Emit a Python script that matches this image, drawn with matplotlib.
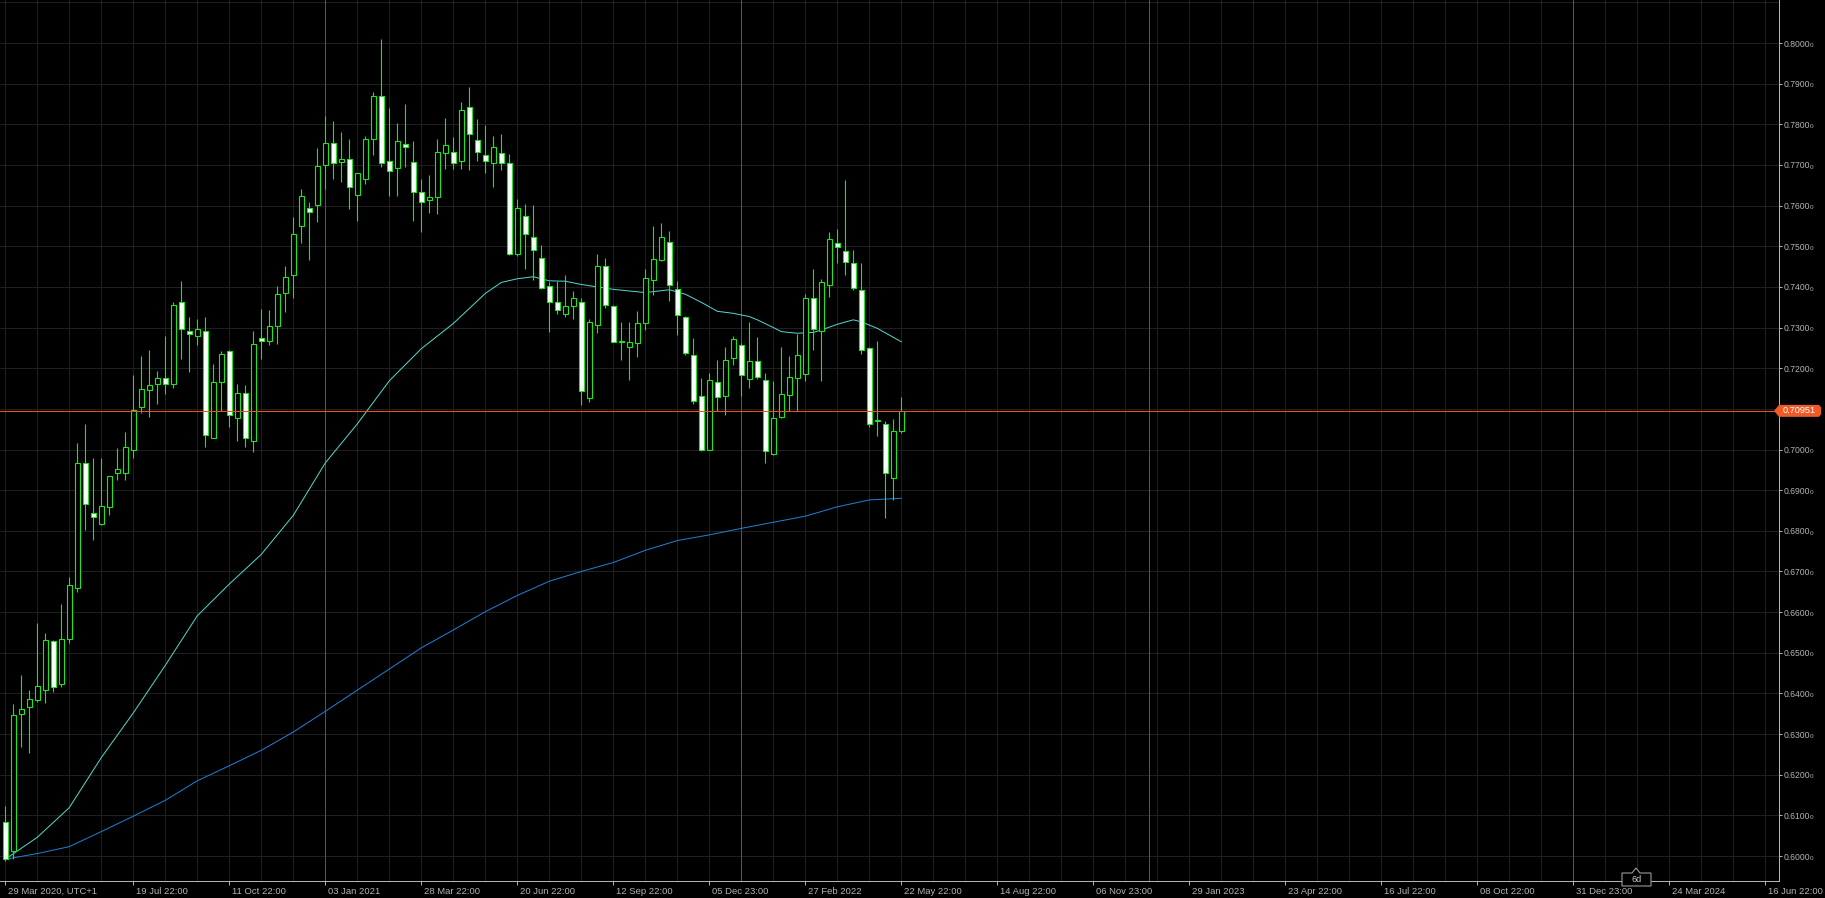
import numpy as np
import matplotlib
matplotlib.use("Agg")
import matplotlib.pyplot as plt
import matplotlib.transforms as mtransforms
from matplotlib.patches import Polygon

plt.rcParams["font.family"] = ["Liberation Sans", "DejaVu Sans"]

# Weekly candles, 29 Mar 2020 -> 22 May 2022
opens = [0.6084, 0.6013, 0.6349, 0.6366, 0.6384, 0.6408, 0.6528, 0.6422, 0.6535, 0.6659,
         0.6967, 0.6845, 0.6817, 0.6859, 0.6941, 0.6943, 0.6999, 0.7105, 0.7146, 0.7162,
         0.7176, 0.7162, 0.7363, 0.7292, 0.7279, 0.7292, 0.7028, 0.7165, 0.7243, 0.7077,
         0.7138, 0.7021, 0.7274, 0.7267, 0.7303, 0.7384, 0.7430, 0.7549, 0.7594, 0.7601,
         0.7701, 0.7754, 0.7707, 0.7714, 0.7627, 0.7666, 0.7763, 0.7869, 0.7709, 0.7693,
         0.7751, 0.7707, 0.7634, 0.7613, 0.7620, 0.7730, 0.7733, 0.7709, 0.7843, 0.7761,
         0.7725, 0.7705, 0.7729, 0.7705, 0.7482, 0.7575, 0.7522, 0.7472, 0.7401, 0.7362,
         0.7333, 0.7353, 0.7363, 0.7127, 0.7306, 0.7451, 0.7352, 0.7265, 0.7253, 0.7262,
         0.7311, 0.7417, 0.7466, 0.7511, 0.7394, 0.7327, 0.7232, 0.7131, 0.7000, 0.7166,
         0.7131, 0.7225, 0.7256, 0.7173, 0.7218, 0.7172, 0.6990, 0.7080, 0.7134, 0.7176,
         0.7186, 0.7373, 0.7292, 0.7404, 0.7507, 0.7488, 0.7458, 0.7392, 0.7249, 0.7070,
         0.7063, 0.6929, 0.7046]
highs = [0.6122, 0.6373, 0.6446, 0.6408, 0.6573, 0.6549, 0.6531, 0.6619, 0.6686, 0.7017,
         0.7063, 0.6979, 0.6979, 0.6936, 0.7003, 0.7042, 0.7183, 0.7230, 0.7246, 0.7193,
         0.7278, 0.7362, 0.7415, 0.7325, 0.7321, 0.7325, 0.7210, 0.7243, 0.7246, 0.7162,
         0.7159, 0.7292, 0.7345, 0.7342, 0.7401, 0.7451, 0.7573, 0.7641, 0.7610, 0.7742,
         0.7821, 0.7807, 0.7782, 0.7765, 0.7680, 0.7772, 0.7880, 0.8010, 0.7839, 0.7803,
         0.7849, 0.7758, 0.7665, 0.7676, 0.7765, 0.7815, 0.7770, 0.7855, 0.7892, 0.7813,
         0.7798, 0.7772, 0.7775, 0.7727, 0.7617, 0.7603, 0.7601, 0.7503, 0.7411, 0.7415,
         0.7429, 0.7390, 0.7373, 0.7320, 0.7482, 0.7472, 0.7356, 0.7313, 0.7313, 0.7341,
         0.7444, 0.7550, 0.7557, 0.7538, 0.7415, 0.7328, 0.7275, 0.7176, 0.7187, 0.7221,
         0.7253, 0.7279, 0.7263, 0.7314, 0.7277, 0.7187, 0.7169, 0.7253, 0.7229, 0.7284,
         0.7383, 0.7444, 0.7420, 0.7535, 0.7542, 0.7662, 0.7491, 0.7459, 0.7253, 0.7268,
         0.7070, 0.7074, 0.7128]
lows = [0.5988, 0.5992, 0.6267, 0.6253, 0.6380, 0.6376, 0.6404, 0.6415, 0.6525, 0.6650,
        0.6803, 0.6778, 0.6815, 0.6838, 0.6925, 0.6925, 0.6978, 0.7089, 0.7080, 0.7113,
        0.7137, 0.7151, 0.7223, 0.7190, 0.7256, 0.7007, 0.7028, 0.7094, 0.7056, 0.7021,
        0.7007, 0.6993, 0.7223, 0.7257, 0.7260, 0.7338, 0.7373, 0.7507, 0.7465, 0.7559,
        0.7641, 0.7666, 0.7658, 0.7592, 0.7563, 0.7652, 0.7725, 0.7694, 0.7624, 0.7624,
        0.7694, 0.7563, 0.7535, 0.7582, 0.7580, 0.7690, 0.7691, 0.7690, 0.7687, 0.7709,
        0.7681, 0.7645, 0.7687, 0.7479, 0.7475, 0.7444, 0.7416, 0.7394, 0.7289, 0.7333,
        0.7327, 0.7320, 0.7109, 0.7117, 0.7286, 0.7348, 0.7264, 0.7221, 0.7172, 0.7227,
        0.7293, 0.7380, 0.7463, 0.7366, 0.7282, 0.7232, 0.7113, 0.6997, 0.7000, 0.7094,
        0.7084, 0.7208, 0.7131, 0.7151, 0.7173, 0.6967, 0.6986, 0.7077, 0.7094, 0.7094,
        0.7169, 0.7246, 0.7169, 0.7376, 0.7459, 0.7430, 0.7392, 0.7236, 0.7056, 0.7032,
        0.6831, 0.6876, 0.7040]
closes = [0.5992, 0.6347, 0.6361, 0.6387, 0.6418, 0.6531, 0.6415, 0.6535, 0.6666, 0.6967,
          0.6866, 0.6834, 0.6862, 0.6934, 0.6951, 0.7006, 0.7098, 0.7148, 0.7158, 0.7176,
          0.7162, 0.7356, 0.7296, 0.7283, 0.7297, 0.7035, 0.7165, 0.7236, 0.7084, 0.7138,
          0.7028, 0.7260, 0.7267, 0.7303, 0.7383, 0.7425, 0.7531, 0.7623, 0.7584, 0.7697,
          0.7754, 0.7705, 0.7714, 0.7645, 0.7680, 0.7763, 0.7869, 0.7704, 0.7686, 0.7758,
          0.7744, 0.7634, 0.7610, 0.7620, 0.7733, 0.7749, 0.7705, 0.7835, 0.7775, 0.7732,
          0.7709, 0.7743, 0.7705, 0.7482, 0.7595, 0.7529, 0.7491, 0.7397, 0.7363, 0.7344,
          0.7354, 0.7372, 0.7143, 0.7314, 0.7451, 0.7355, 0.7265, 0.7267, 0.7265, 0.7311,
          0.7421, 0.7469, 0.7522, 0.7405, 0.7331, 0.7237, 0.7120, 0.7000, 0.7172, 0.7129,
          0.7221, 0.7273, 0.7183, 0.7218, 0.7179, 0.6997, 0.7077, 0.7137, 0.7179, 0.7232,
          0.7373, 0.7296, 0.7413, 0.7517, 0.7497, 0.7462, 0.7397, 0.7246, 0.7063, 0.7071,
          0.6943, 0.7046, 0.70951]

# moving averages read at selected bars (bar index, value)
ma_fast_idx = [0, 4, 8, 12, 16, 20, 24, 28, 32, 36, 40, 44, 48, 52, 56, 60, 62, 64, 66, 68,
               70, 72, 76, 80, 83, 85, 87, 89, 91, 93, 94, 96, 97, 99, 101, 102, 104, 106,
               107, 109, 111, 112]
ma_fast_val = [0.5992, 0.6046, 0.6119, 0.6242, 0.6352, 0.6469, 0.6591, 0.6669, 0.6742, 0.6838,
               0.6967, 0.7063, 0.7169, 0.7248, 0.7310, 0.7384, 0.7411, 0.7420, 0.7425, 0.7415,
               0.7414, 0.7406, 0.7394, 0.7386, 0.7393, 0.7382, 0.7362, 0.7340, 0.7335, 0.7327,
               0.7319, 0.7300, 0.7290, 0.7286, 0.7288, 0.7294, 0.7308, 0.7319, 0.7314, 0.7298,
               0.7276, 0.7265]
ma_slow_idx = [0, 4, 8, 12, 16, 20, 24, 28, 32, 36, 40, 44, 48, 52, 56, 60, 64, 68, 72, 76,
               80, 84, 88, 92, 96, 100, 104, 108, 112]
ma_slow_val = [0.5992, 0.6006, 0.6023, 0.6060, 0.6098, 0.6137, 0.6185, 0.6222, 0.6260, 0.6305,
               0.6356, 0.6408, 0.6460, 0.6512, 0.6556, 0.6601, 0.6641, 0.6676, 0.6700, 0.6722,
               0.6752, 0.6776, 0.6790, 0.6806, 0.6821, 0.6836, 0.6859, 0.6876, 0.6880]

# time axis labels (bar index from 29 Mar 2020)
tick_idx = [0, 16, 28, 40, 52, 64, 76, 88, 100, 112, 124, 136, 148, 160, 172, 184, 196, 208, 220]
tick_labels = ["29 Mar 2020, UTC+1", "19 Jul 22:00", "11 Oct 22:00", "03 Jan 2021",
               "28 Mar 22:00", "20 Jun 22:00", "12 Sep 22:00", "05 Dec 23:00", "27 Feb 2022",
               "22 May 22:00", "14 Aug 22:00", "06 Nov 23:00", "29 Jan 2023", "23 Apr 22:00",
               "16 Jul 22:00", "08 Oct 22:00", "31 Dec 23:00", "24 Mar 2024", "16 Jun 22:00"]
year_idx = [40, 92, 143, 196]
price_levels = [0.60, 0.61, 0.62, 0.63, 0.64, 0.65, 0.66, 0.67, 0.68, 0.69, 0.70,
                0.71, 0.72, 0.73, 0.74, 0.75, 0.76, 0.77, 0.78, 0.79, 0.80]

BG = "#000000"
GRID = "#1f1f1f"
SEP = "#555555"
AXIS = "#b4b4b4"
TXT = "#b4b4b4"
GREEN = "#1ee61e"
ORANGE = "#f0521e"
PX = 0.72  # one pixel in points at 100 dpi

W, H = 1825, 898
fig = plt.figure(figsize=(W / 100, H / 100), dpi=100, facecolor=BG)
ax = fig.add_axes([0, 17 / H, 1779 / W, 881 / H])
ax.set_facecolor(BG)
ax.set_xlim(-0.66, 221.7)
ax.set_ylim(0.59385, 0.81058)

# grid
for gx in range(0, 224, 4):
    ax.axvline(gx, color=GRID, lw=PX, zorder=0)
for gy in price_levels + [0.81]:
    ax.axhline(gy, color=GRID, lw=PX, zorder=0)
for sx in year_idx:
    ax.axvline(sx, color=SEP, lw=PX, zorder=0.5)

# moving averages
ax.plot(ma_fast_idx, ma_fast_val, color="#4fd8cf", lw=PX, zorder=2)
ax.plot(ma_slow_idx, ma_slow_val, color="#1f7fd6", lw=PX, zorder=2)

# candles
o = np.array(opens)
h = np.array(highs)
l = np.array(lows)
c = np.array(closes)
x = np.arange(len(o))
ax.vlines(x, l, h, color=GREEN, lw=0.8, zorder=3)
bottom = np.minimum(o, c)
height = np.maximum(np.abs(c - o), 0.0003)
face = np.where(c >= o, BG, "#ffffff")
ax.bar(x, height, bottom=bottom, width=0.62, color=face, edgecolor=GREEN,
       linewidth=0.8, zorder=4)

# current price line
last = closes[-1]
ax.axhline(last, color=ORANGE, lw=PX, zorder=5)

# axes styling
for s in ["left", "top"]:
    ax.spines[s].set_visible(False)
for s in ["right", "bottom"]:
    ax.spines[s].set_color(AXIS)
    ax.spines[s].set_linewidth(PX)

# the 0.7100 label sits under the price tag, so it is left blank
ax.yaxis.tick_right()
ax.set_yticks(price_levels)
ylabels = ["" if abs(v - last) < 0.003 else f"{v:.4f}" for v in price_levels]
ax.set_yticklabels(ylabels)
ax.tick_params(axis="y", colors=AXIS, labelcolor=TXT, labelsize=6.2, length=2, width=PX, pad=1.2)
for v, lab in zip(price_levels, ylabels):
    if lab:
        ax.annotate("0", xy=(1, v), xycoords=("axes fraction", "data"), xytext=(22.3, -1.6),
                    textcoords="offset points", color=TXT, fontsize=4.6, ha="left", va="center")

ax.set_xticks(tick_idx)
ax.set_xticklabels(tick_labels)
ax.tick_params(axis="x", colors=AXIS, labelcolor=TXT, labelsize=6.8, length=3, width=PX, pad=1.5)
shift = mtransforms.ScaledTranslation(3 / 100, 0, fig.dpi_scale_trans)
for lab in ax.get_xticklabels():
    lab.set_horizontalalignment("left")
    lab.set_transform(lab.get_transform() + shift)

# price tag on the right axis
tag = mtransforms.blended_transform_factory(fig.transFigure, ax.transData)
hh = 6 / 4065
ax.add_patch(Polygon([(1774 / W, last), (1779 / W, last + hh), (1819 / W, last + hh),
                      (1821 / W, last + hh * 0.6), (1821 / W, last - hh * 0.6),
                      (1819 / W, last - hh), (1779 / W, last - hh)],
                     closed=True, facecolor="#f05a28", edgecolor="none",
                     transform=tag, clip_on=False, zorder=6))
ax.text(1799.5 / W, last, f"{last:.5f}", transform=tag, color="white", fontsize=6.6,
        ha="center", va="center", zorder=7, clip_on=False)

# "6d" period marker
pts = [(1622, 873), (1632, 873), (1636, 868), (1640, 873), (1651, 873), (1651, 886), (1622, 886)]
fig.patches.append(Polygon([(px / W, 1 - py / H) for px, py in pts], closed=True,
                           facecolor=BG, edgecolor="#9a9a9a", linewidth=0.8,
                           transform=fig.transFigure, zorder=3))
fig.text(1636.5 / W, 1 - 880 / H, "6d", color="#c8c8c8", fontsize=6.6,
         ha="center", va="center", zorder=4)

fig.savefig("out.png", dpi=100, facecolor=BG)
